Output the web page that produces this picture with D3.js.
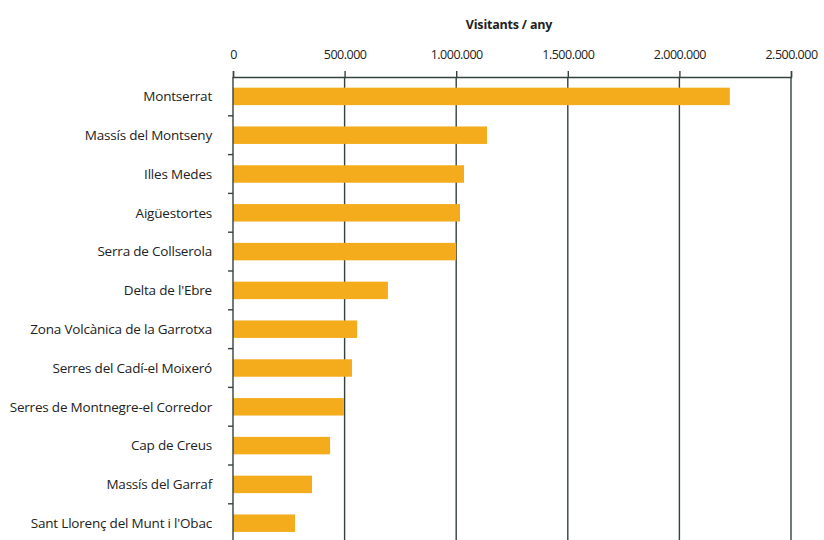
<!DOCTYPE html>
<html>
<head>
<meta charset="utf-8">
<script src="https://cdn.jsdelivr.net/npm/d3@7"></script>
<style>
  html, body { margin: 0; padding: 0; background: #fff; }
  svg text { font-family: "Open Sans", "Noto Sans", sans-serif; }
</style>
</head>
<body>
<svg id="chart" width="824" height="540"></svg>
<script>
const categories = [
  "Montserrat",
  "Massís del Montseny",
  "Illes Medes",
  "Aigüestortes",
  "Serra de Collserola",
  "Delta de l'Ebre",
  "Zona Volcànica de la Garrotxa",
  "Serres del Cadí-el Moixeró",
  "Serres de Montnegre-el Corredor",
  "Cap de Creus",
  "Massís del Garraf",
  "Sant Llorenç del Munt i l'Obac"
];
const visitants = [2226000, 1138000, 1035000, 1017000, 1000000, 694000, 556000, 533000, 497000, 435000, 354000, 278000];
const tickValues = [0, 500000, 1000000, 1500000, 2000000, 2500000];
const tickLabels = ["0", "500.000", "1.000.000", "1.500.000", "2.000.000", "2.500.000"];
const axisTitle = "Visitants / any";

const svg = d3.select("#chart");
const mLeft = 233, mRight = 791, mTop = 77;
const step = 38.8;
const mBottom = mTop + step * categories.length;

const x = d3.scaleLinear().domain([0, 2500000]).range([mLeft, mRight]);
const y = d3.scaleBand().domain(categories).range([mTop, mBottom]).paddingInner(0.55).paddingOuter(0.275);

const gridColor = "#34423f";

// gridlines
svg.append("g").selectAll("line").data(tickValues.slice(1)).join("line")
  .attr("x1", d => x(d)).attr("x2", d => x(d))
  .attr("y1", mTop).attr("y2", 540)
  .attr("stroke", gridColor).attr("stroke-width", 1.4);

// bars
svg.append("g").selectAll("rect").data(categories).join("rect")
  .attr("x", x(0))
  .attr("y", d => y(d))
  .attr("width", (d, i) => x(visitants[i]) - x(0))
  .attr("height", y.bandwidth())
  .attr("fill", "#f4ac1c");

// top axis
const xAxis = d3.axisTop(x).tickValues(tickValues)
  .tickFormat((d, i) => tickLabels[i]).tickSize(6).tickPadding(12);
const gx = svg.append("g").attr("transform", `translate(0,${mTop})`).call(xAxis);
gx.select(".domain").attr("stroke", gridColor).attr("stroke-width", 1.4);
gx.selectAll(".tick line").attr("stroke", gridColor).attr("stroke-width", 1.4);
gx.selectAll(".tick text").attr("font-size", 12.5).attr("fill", "#222")
  .style("font-family", "'Open Sans', sans-serif").style("letter-spacing", "-0.5px");

// left axis (ticks at band boundaries)
svg.append("line").attr("x1", mLeft).attr("x2", mLeft).attr("y1", mTop).attr("y2", 540)
  .attr("stroke", gridColor).attr("stroke-width", 1.4);
svg.append("g").selectAll("line").data(categories.slice(1)).join("line")
  .attr("x1", mLeft - 5).attr("x2", mLeft)
  .attr("y1", d => y(d) - y.step() * y.paddingInner() / 2)
  .attr("y2", d => y(d) - y.step() * y.paddingInner() / 2)
  .attr("stroke", gridColor).attr("stroke-width", 1.4);

// category labels
svg.append("g").selectAll("text").data(categories).join("text")
  .attr("x", 212)
  .attr("y", d => y(d) + y.bandwidth() / 2)
  .attr("dy", "0.35em")
  .attr("text-anchor", "end")
  .attr("font-size", 13.5)
  .attr("fill", "#222")
  .style("letter-spacing", "-0.2px")
  .text(d => d);

// title
svg.append("text")
  .attr("x", 509)
  .attr("y", 29)
  .attr("text-anchor", "middle")
  .attr("font-size", 12.5)
  .attr("font-weight", "bold")
  .attr("fill", "#222")
  .style("letter-spacing", "-0.2px")
  .text(axisTitle);
</script>
</body>
</html>
